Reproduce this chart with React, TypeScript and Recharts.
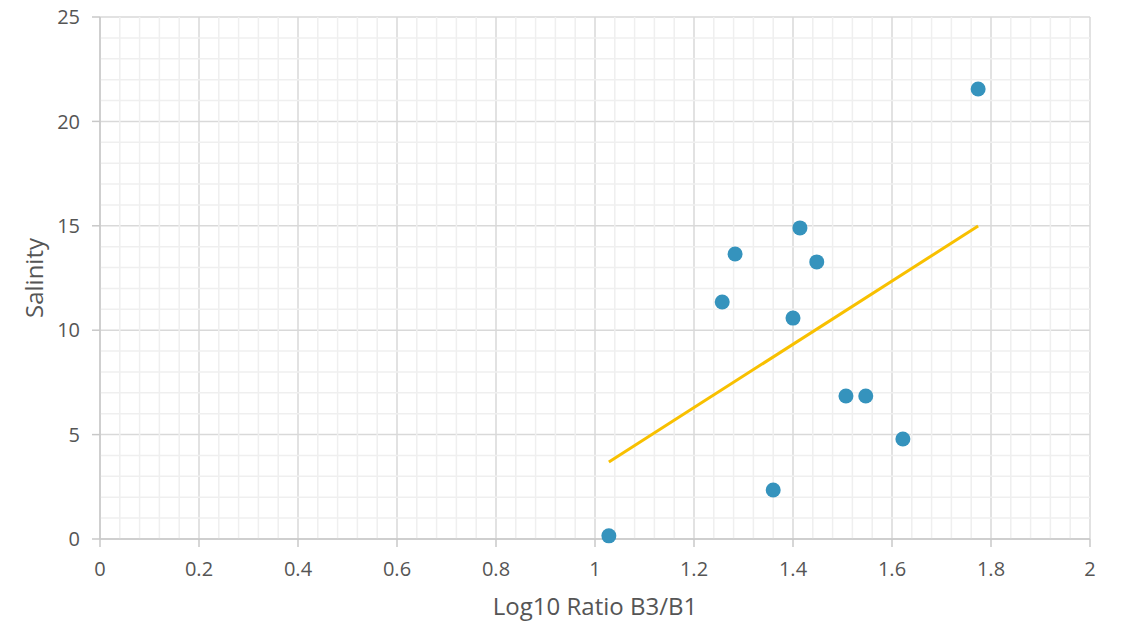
import { CartesianGrid, ReferenceLine, Scatter, ScatterChart, XAxis, YAxis } from "recharts"

// log10 ratio B3/B1 vs measured salinity
const ratioValues = [1.028, 1.36, 1.257, 1.283, 1.4, 1.414, 1.448, 1.507, 1.547, 1.622, 1.774]
const salinityValues = [0.15, 2.35, 11.35, 13.65, 10.58, 14.9, 13.27, 6.85, 6.85, 4.79, 21.55]

// fitted trend line end points
const trendX = [1.028, 1.774]
const trendY = [3.69, 14.99]

const xTicks = [0, 0.2, 0.4, 0.6, 0.8, 1, 1.2, 1.4, 1.6, 1.8, 2]
const yTicks = [0, 5, 10, 15, 20, 25]

const xMinor: number[] = []
for (let i = 1; i < 50; i++) if (i % 5 !== 0) xMinor.push(+(i * 0.04).toFixed(2))
const yMinor: number[] = []
for (let i = 1; i < 25; i++) if (i % 5 !== 0) yMinor.push(i)

const points = ratioValues.map((x, i) => ({ x, y: salinityValues[i] }))
const trend = trendX.map((x, i) => ({ x, y: trendY[i] }))

const font = "'Open Sans', 'DejaVu Sans', sans-serif"
const tickStyle = { fill: "#555", fontSize: 20, fontFamily: font }

export default function App() {
    return (
        <div style={{ position: "absolute", left: 0, top: 0, background: "#fff" }}>
            <ScatterChart width={1127} height={626} margin={{ top: 17, right: 37, bottom: 27, left: 40 }}>
                {xMinor.map(v => (
                    <ReferenceLine key={"vx" + v} x={v} stroke="#efefef" strokeWidth={1.5} />
                ))}
                {yMinor.map(v => (
                    <ReferenceLine key={"hy" + v} y={v} stroke="#efefef" strokeWidth={1.5} />
                ))}
                <CartesianGrid stroke="#d9d9d9" strokeWidth={1.5} />
                <XAxis
                    type="number"
                    dataKey="x"
                    domain={[0, 2]}
                    ticks={xTicks}
                    interval={0}
                    height={60}
                    stroke="#c8c8c8"
                    strokeWidth={1.5}
                    tickSize={8}
                    tickMargin={15}
                    tick={tickStyle}
                    label={{ value: "Log10 Ratio B3/B1", position: "insideBottom", offset: -16, fill: "#555", fontSize: 24, fontFamily: font }}
                />
                <YAxis
                    type="number"
                    dataKey="y"
                    domain={[0, 25]}
                    ticks={yTicks}
                    interval={0}
                    width={60}
                    stroke="#c8c8c8"
                    strokeWidth={1.5}
                    tickSize={8}
                    tickMargin={12}
                    tick={tickStyle}
                    label={{ value: "Salinity", angle: -90, position: "insideLeft", offset: -6, fill: "#555", fontSize: 24, fontFamily: font, style: { textAnchor: "middle" } }}
                />
                <Scatter
                    data={trend}
                    line={{ stroke: "#f8c000", strokeWidth: 3 }}
                    shape={() => null}
                    isAnimationActive={false}
                />
                <Scatter data={points} fill="#3593bd" shape={(p: any) => <circle cx={p.cx} cy={p.cy} r={7.5} fill="#3593bd" />} isAnimationActive={false} />
            </ScatterChart>
        </div>
    )
}
